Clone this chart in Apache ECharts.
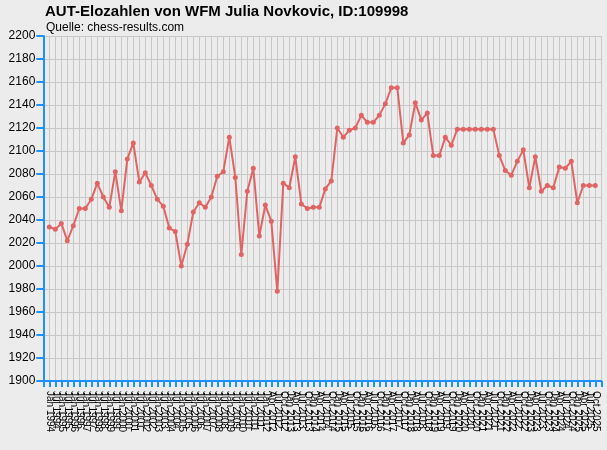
<!DOCTYPE html>
<html>
<head>
<meta charset="utf-8">
<script src="https://cdn.jsdelivr.net/npm/echarts@6/dist/echarts.min.js"></script>
<style>
  html, body { margin: 0; padding: 0; background: #ececec; }
  #chart { width: 607px; height: 450px; }
</style>
</head>
<body>
<div id="chart"></div>
<script>
// ---- Daten ----
const titleText = 'AUT-Elozahlen von WFM Julia Novkovic, ID:109998'
const sourceText = 'Quelle: chess-results.com'

// Ranglisten: halbjährlich Jan 1994 – Jul 2011, danach vierteljährlich Jan 2012 – Okt 2025
const halfYearMonths = ['Jan', 'Jul']
const quarterMonths = ['Jan', 'Apr', 'Jul', 'Oct']
const halfYearRange = [1994, 2011]
const quarterRange = [2012, 2025]

const elo = [
  2034, 2032, 2037, 2022, 2035, 2050, 2050, 2058, 2072, 2060,
  2051, 2082, 2048, 2093, 2107, 2073, 2081, 2070, 2058, 2052,
  2033, 2030, 2000, 2019, 2047, 2055, 2051, 2060, 2078, 2082,
  2112, 2077, 2010, 2065, 2085, 2026, 2053, 2039, 1978, 2072,
  2068, 2095, 2054, 2050, 2051, 2051, 2067, 2074, 2120, 2112,
  2118, 2120, 2131, 2125, 2125, 2131, 2141, 2155, 2155, 2107,
  2114, 2142, 2127, 2133, 2096, 2096, 2112, 2105, 2119, 2119,
  2119, 2119, 2119, 2119, 2119, 2096, 2083, 2079, 2091, 2101,
  2068, 2095, 2065, 2070, 2068, 2086, 2085, 2091, 2055, 2070,
  2070, 2070
]

const yMin = 1900
const yMax = 2200
const yStep = 20

// ---- Kategorien aufbauen ----
const dates = []
for (let y = halfYearRange[0]; y <= halfYearRange[1]; y++) {
  halfYearMonths.forEach(m => dates.push(m + ' ' + y))
}
for (let y = quarterRange[0]; y <= quarterRange[1]; y++) {
  quarterMonths.forEach(m => dates.push(m + ' ' + y))
}

// je eine leere Kategorie am Anfang und Ende als Rand
const cats = [''].concat(dates, [''])
const values = [null].concat(elo, [null])

const blue = '#1e90ff'

const chart = echarts.init(document.getElementById('chart'))
chart.setOption({
  backgroundColor: '#ececec',
  animation: false,
  title: [
    {
      text: titleText,
      left: 45, top: 4, padding: 0,
      textStyle: { fontFamily: 'Liberation Sans', fontSize: 15, fontWeight: 'bold', color: '#000' }
    },
    {
      text: sourceText,
      left: 46, top: 22, padding: 0,
      textStyle: { fontFamily: 'Liberation Sans', fontSize: 12, fontWeight: 'normal', color: '#000' }
    }
  ],
  grid: { left: 43.3, right: 5.7, top: 36, bottom: 69, containLabel: false },
  xAxis: {
    type: 'category',
    data: cats,
    boundaryGap: false,
    axisLine: { lineStyle: { color: blue, width: 2 } },
    axisTick: { show: true, interval: 0, length: 6, lineStyle: { color: blue, width: 2 } },
    axisLabel: {
      interval: 0, rotate: -90, margin: 10,
      fontFamily: 'Liberation Sans', fontSize: 10, color: '#000'
    },
    splitLine: { show: true, interval: 0, lineStyle: { color: '#c8c8c8', width: 1 } }
  },
  yAxis: {
    type: 'value',
    min: yMin, max: yMax, interval: yStep,
    axisLine: { show: true, lineStyle: { color: blue, width: 2 } },
    axisTick: { show: true, length: 7, lineStyle: { color: blue, width: 2 } },
    axisLabel: {
      margin: 8, fontFamily: 'Liberation Sans', fontSize: 12, color: '#000',
      formatter: v => String(v)
    },
    splitLine: { show: true, lineStyle: { color: '#c8c8c8', width: 1 } }
  },
  series: [{
    type: 'line',
    data: values,
    connectNulls: false,
    symbol: 'circle',
    symbolSize: 5,
    lineStyle: { color: '#e06464', width: 2 },
    itemStyle: { color: '#e06464' }
  }]
})
</script>
</body>
</html>
